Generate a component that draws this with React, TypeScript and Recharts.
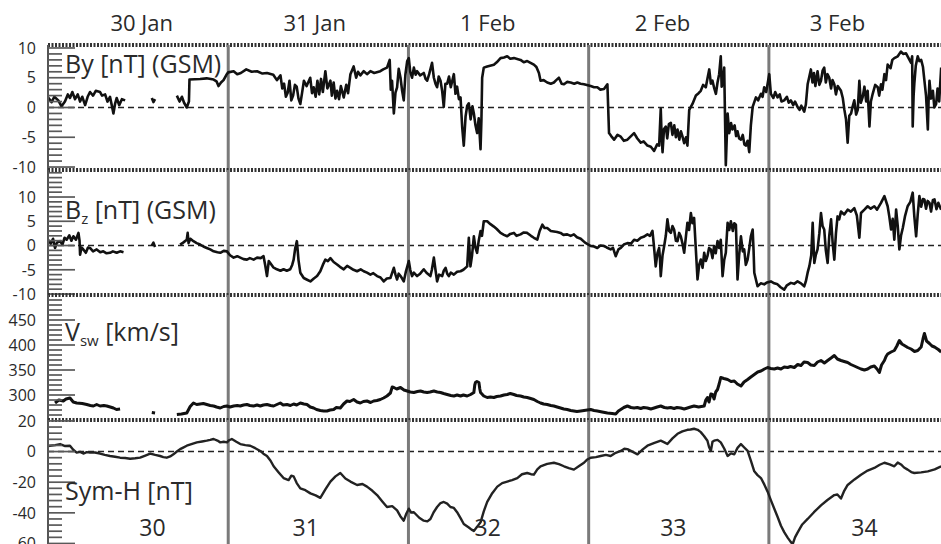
import React from 'react';
import { LineChart, Line, XAxis, YAxis, ReferenceLine, ReferenceDot } from 'recharts';

type Pt = [number, number | null];

const FONT = "'Open Sans', 'DejaVu Sans', sans-serif";
const TEXT = '#2a2a2a';

// Day-of-year axis (fractional days)
const X_DOMAIN: [number, number] = [30, 34.955];
const DAY_BOUNDARIES = [31, 32, 33, 34];
const DATE_TICKS = [30.52, 31.48, 32.44, 33.41, 34.38];
const DATE_LABELS = ['30 Jan', '31 Jan', '1 Feb', '2 Feb', '3 Feb'];
const DOY_TICKS = [30.58, 31.43, 32.44, 33.47, 34.53];
const DOY_LABELS = ['30', '31', '32', '33', '34'];

// IMF By (GSM), nT
const BY: Pt[] = [
  [30.0, 1.7], [30.02, 0.9], [30.035, 1.8], [30.057, 1.2], [30.075, 0.2], [30.094, 1.0], [30.11, 2.2],
  [30.122, 1.6], [30.135, 2.6], [30.15, 1.4], [30.165, 2.2], [30.178, 1.0], [30.19, 1.8], [30.206, 0.4],
  [30.22, 1.8], [30.233, 2.6], [30.25, 2.0], [30.265, 2.8], [30.289, 2.6], [30.3, 2.0], [30.317, 2.2],
  [30.33, 1.0], [30.344, 1.8], [30.355, 0.2], [30.363, -1.0], [30.372, 0.6], [30.381, 1.6], [30.395, 0.4],
  [30.41, 1.4], [30.428, 1.2], [30.45, null], [30.576, 1.6], [30.585, 0.9], [30.594, 1.4], [30.62, null],
  [30.715, 2.0], [30.73, 1.0], [30.743, 1.8], [30.755, 0.8], [30.77, 0.0], [30.782, 1.0], [30.785, 4.7],
  [30.844, 4.8], [30.88, 4.9], [30.919, 4.7], [30.935, 4.4], [30.946, 3.6], [30.96, 4.2], [30.974, 4.6],
  [30.99, 5.5], [31.0, 5.9], [31.03, 6.1], [31.05, 5.6], [31.07, 5.8], [31.1, 6.4], [31.13, 6.0],
  [31.16, 6.1], [31.19, 5.7], [31.215, 5.8], [31.25, 5.5], [31.27, 4.6], [31.29, 5.4], [31.3, 3.2],
  [31.31, 4.0], [31.32, 1.8], [31.33, 2.5], [31.34, 4.5], [31.35, 1.2], [31.36, 2.0], [31.37, 3.8],
  [31.38, 3.5], [31.39, 1.5], [31.4, 0.6], [31.41, 2.5], [31.42, 4.5], [31.435, 3.6], [31.455, 5.0],
  [31.465, 2.4], [31.474, 3.4], [31.485, 1.8], [31.495, 4.5], [31.505, 2.2], [31.515, 4.8], [31.525, 2.6],
  [31.539, 6.1], [31.55, 3.2], [31.567, 4.5], [31.575, 2.0], [31.585, 4.2], [31.595, 1.5], [31.604, 2.8],
  [31.615, 1.4], [31.625, 3.6], [31.641, 1.7], [31.655, 3.8], [31.665, 2.4], [31.678, 5.6], [31.696, 6.9],
  [31.71, 5.0], [31.72, 6.0], [31.733, 5.4], [31.752, 6.1], [31.77, 5.6], [31.789, 6.1], [31.81, 5.8],
  [31.844, 6.1], [31.86, 6.4], [31.881, 6.7], [31.896, 8.0], [31.902, 3.0], [31.909, 4.5], [31.919, -1.0],
  [31.928, 2.5], [31.937, 3.4], [31.946, 6.5], [31.956, 5.0], [31.965, 2.8], [31.974, 1.2], [31.983, 5.5],
  [31.993, 7.8], [32.002, 8.3], [32.01, 6.0], [32.02, 5.0], [32.03, 6.7], [32.04, 5.5], [32.048, 6.1],
  [32.065, 5.4], [32.085, 5.8], [32.095, 4.8], [32.104, 4.5], [32.115, 5.6], [32.131, 7.5], [32.141, 5.0],
  [32.15, 4.0], [32.159, 3.4], [32.168, 5.2], [32.178, 4.5], [32.187, 2.8], [32.196, 0.1], [32.205, 4.0],
  [32.215, 4.0], [32.225, 5.2], [32.235, 3.4], [32.252, 5.6], [32.261, 2.3], [32.27, 3.5], [32.28, 1.4],
  [32.289, 1.7], [32.298, -3.2], [32.307, -6.4], [32.317, -1.5], [32.326, 0.3], [32.335, 0.7],
  [32.345, -2.0], [32.355, 0.2], [32.363, -1.0], [32.372, -3.0], [32.381, -4.3], [32.39, -1.8],
  [32.4, -7.0], [32.405, -2.0], [32.409, 5.0], [32.418, 6.7], [32.437, 6.9], [32.474, 7.2], [32.49, 7.6],
  [32.511, 8.3], [32.53, 8.4], [32.548, 8.6], [32.565, 8.2], [32.585, 8.3], [32.622, 8.0], [32.64, 7.6],
  [32.659, 7.8], [32.696, 7.2], [32.71, 6.8], [32.724, 5.8], [32.733, 4.5], [32.75, 4.6], [32.77, 4.2],
  [32.79, 4.0], [32.807, 4.2], [32.82, 4.6], [32.835, 5.0], [32.85, 4.0], [32.863, 3.9], [32.88, 4.3],
  [32.9, 4.2], [32.92, 4.0], [32.937, 4.2], [32.955, 4.0], [32.974, 3.9], [33.011, 3.6], [33.03, 3.4],
  [33.048, 3.4], [33.065, 3.0], [33.085, 3.1], [33.104, 3.9], [33.113, -4.3], [33.125, -4.8],
  [33.141, -5.4], [33.16, -4.6], [33.178, -4.9], [33.195, -5.6], [33.215, -5.4], [33.235, -4.8],
  [33.252, -4.3], [33.27, -5.2], [33.289, -5.9], [33.305, -5.7], [33.326, -6.4], [33.345, -6.6],
  [33.363, -7.3], [33.38, -6.2], [33.391, -6.4], [33.4, -0.2], [33.405, -5.0], [33.41, -7.5],
  [33.418, -3.6], [33.428, -3.2], [33.436, -5.2], [33.445, -2.8], [33.456, -2.6], [33.465, -4.6],
  [33.475, -3.0], [33.484, -5.0], [33.493, -3.7], [33.503, -5.4], [33.512, -4.0], [33.52, -4.8],
  [33.53, -6.0], [33.54, -5.0], [33.548, -6.4], [33.558, -0.4], [33.576, 0.6], [33.595, 2.0], [33.61, 2.4],
  [33.622, 2.8], [33.635, 3.8], [33.65, 3.4], [33.66, 5.0], [33.669, 6.4], [33.678, 4.0], [33.687, 4.5],
  [33.697, 3.2], [33.706, 2.3], [33.715, 4.2], [33.724, 5.6], [33.733, 8.6], [33.738, 3.5], [33.743, 4.0],
  [33.752, 6.7], [33.761, -9.7], [33.771, -1.0], [33.78, -4.3], [33.79, -2.6], [33.798, -3.7],
  [33.81, -3.0], [33.818, -4.8], [33.826, -4.0], [33.835, -5.2], [33.845, -5.4], [33.855, -4.6],
  [33.864, -6.2], [33.872, -6.4], [33.882, -5.6], [33.891, -7.5], [33.9, -3.0], [33.91, 0.1], [33.928, 1.7],
  [33.94, 1.2], [33.956, 2.3], [33.965, 1.8], [33.974, 3.4], [33.985, 2.6], [34.002, 5.6], [34.011, 2.3],
  [34.025, 1.6], [34.035, 2.6], [34.048, 1.7], [34.06, 2.2], [34.07, 1.0], [34.085, 1.2], [34.1, 1.8],
  [34.11, 0.8], [34.122, 1.2], [34.135, 0.4], [34.145, 1.0], [34.159, 0.1], [34.17, -0.4], [34.18, 0.3],
  [34.196, -0.7], [34.205, 0.5], [34.215, 3.9], [34.223, 5.0], [34.233, 6.4], [34.242, 4.2], [34.25, 5.8],
  [34.258, 3.6], [34.27, 6.1], [34.28, 3.8], [34.289, 4.5], [34.298, 6.2], [34.307, 6.7], [34.316, 4.2],
  [34.325, 5.6], [34.335, 5.0], [34.345, 3.2], [34.353, 4.6], [34.363, 3.9], [34.372, 2.2], [34.382, 3.6],
  [34.4, 2.8], [34.41, 1.6], [34.419, -0.4], [34.428, -2.0], [34.437, -5.9], [34.446, -1.4], [34.456, -1.0],
  [34.465, 0.2], [34.474, 1.2], [34.484, -1.2], [34.493, -0.4], [34.502, 4.5], [34.51, 0.8], [34.52, 1.7],
  [34.53, 3.5], [34.54, 1.0], [34.548, 2.8], [34.558, -3.2], [34.566, 1.0], [34.576, 2.3], [34.59, 3.8],
  [34.604, 3.4], [34.612, 2.0], [34.622, 3.9], [34.63, 3.0], [34.641, 5.6], [34.65, 4.6], [34.659, 7.2],
  [34.675, 6.6], [34.685, 8.0], [34.696, 8.3], [34.715, 8.6], [34.733, 9.4], [34.745, 9.0], [34.761, 9.1],
  [34.775, 8.3], [34.789, 7.5], [34.795, 8.6], [34.798, -3.2], [34.803, 2.0], [34.807, 4.0], [34.815, 7.0],
  [34.826, 8.6], [34.835, 7.8], [34.845, 8.0], [34.855, 6.8], [34.863, 4.5], [34.872, 2.0], [34.882, -3.7],
  [34.886, 1.0], [34.891, 4.5], [34.9, 1.5], [34.91, 2.8], [34.918, 0.0], [34.928, 0.6], [34.936, 3.2],
  [34.945, 1.0], [34.956, 6.7],
];

// IMF Bz (GSM), nT
const BZ: Pt[] = [
  [30.0, 1.2], [30.015, 0.4], [30.028, 1.4], [30.039, -0.5], [30.05, 0.6], [30.067, 0.9], [30.08, 0.2],
  [30.092, 1.6], [30.104, 1.2], [30.118, 2.1], [30.13, 1.0], [30.141, 1.9], [30.155, 1.2], [30.169, 2.6],
  [30.175, 1.0], [30.178, -1.9], [30.186, -0.4], [30.196, -0.8], [30.21, -1.5], [30.222, -0.4],
  [30.233, -0.5], [30.25, -1.2], [30.27, -0.8], [30.29, -1.4], [30.307, -1.2], [30.325, -1.6],
  [30.344, -1.5], [30.36, -1.2], [30.381, -1.5], [30.4, -1.2], [30.419, -1.4], [30.44, null],
  [30.576, 0.0], [30.585, 0.6], [30.594, -0.3], [30.62, null], [30.733, 0.2], [30.75, 0.6], [30.77, 1.2],
  [30.775, 2.6], [30.78, 0.5], [30.79, 1.4], [30.807, 0.9], [30.825, 0.5], [30.844, 0.2], [30.862, -0.2],
  [30.881, -0.5], [30.9, -0.8], [30.919, -1.2], [30.94, -1.4], [30.956, -1.5], [30.975, -1.1],
  [30.993, -1.2], [31.01, -2.0], [31.03, -2.5], [31.05, -2.2], [31.067, -2.5], [31.085, -2.8],
  [31.104, -2.9], [31.12, -2.6], [31.141, -2.9], [31.16, -2.5], [31.18, -2.6], [31.196, -2.2],
  [31.205, -4.0], [31.215, -6.3], [31.225, -3.2], [31.233, -3.6], [31.25, -4.5], [31.27, -4.9],
  [31.29, -5.2], [31.307, -4.9], [31.325, -5.2], [31.344, -4.9], [31.355, -4.0], [31.363, -2.9],
  [31.372, -0.5], [31.381, 0.9], [31.39, -3.0], [31.4, -5.6], [31.419, -6.7], [31.435, -7.0],
  [31.456, -7.4], [31.475, -6.8], [31.493, -6.3], [31.511, -5.3], [31.525, -4.0], [31.539, -2.9],
  [31.553, -3.2], [31.567, -2.6], [31.585, -3.4], [31.604, -3.9], [31.62, -4.4], [31.641, -4.9],
  [31.66, -4.2], [31.678, -4.6], [31.695, -5.0], [31.715, -5.3], [31.735, -4.9], [31.752, -5.3],
  [31.77, -5.6], [31.789, -6.0], [31.805, -5.7], [31.826, -6.3], [31.845, -6.6], [31.863, -7.4],
  [31.88, -6.8], [31.9, -6.7], [31.91, -5.6], [31.919, -4.6], [31.928, -6.0], [31.937, -7.0],
  [31.946, -5.8], [31.956, -6.3], [31.965, -6.8], [31.974, -7.4], [31.985, -5.5], [32.002, -3.2],
  [32.01, -5.0], [32.02, -6.3], [32.03, -5.6], [32.048, -6.3], [32.065, -5.8], [32.085, -4.9], [32.1, -5.6],
  [32.122, -6.3], [32.13, -5.0], [32.141, -2.5], [32.15, -5.0], [32.159, -7.4], [32.17, -6.0],
  [32.187, -6.3], [32.196, -5.2], [32.206, -4.6], [32.215, -5.8], [32.224, -6.3], [32.235, -5.6],
  [32.252, -6.0], [32.27, -5.4], [32.289, -5.3], [32.305, -5.0], [32.326, -4.3], [32.335, 1.6],
  [32.344, -4.3], [32.353, -2.0], [32.363, 1.9], [32.372, -0.5], [32.381, -1.5], [32.39, 1.0], [32.4, 3.0],
  [32.408, 2.0], [32.418, 5.0], [32.437, 5.0], [32.455, 4.4], [32.474, 3.9], [32.49, 3.4], [32.511, 2.6],
  [32.53, 2.2], [32.548, 1.9], [32.565, 2.4], [32.585, 2.6], [32.6, 2.0], [32.622, 2.3], [32.64, 2.7],
  [32.659, 2.6], [32.68, 2.0], [32.696, 1.6], [32.715, 1.2], [32.728, 3.0], [32.743, 4.3], [32.755, 3.6],
  [32.77, 3.6], [32.79, 3.0], [32.807, 2.9], [32.825, 2.8], [32.844, 2.6], [32.86, 2.2], [32.881, 2.3],
  [32.9, 2.0], [32.918, 2.3], [32.935, 1.7], [32.956, 1.4], [32.98, 0.6], [33.011, -0.1], [33.03, -0.2],
  [33.048, -0.5], [33.065, 0.0], [33.085, -0.1], [33.1, -0.4], [33.122, -0.8], [33.135, -0.5],
  [33.15, -2.2], [33.165, -0.8], [33.178, -0.5], [33.195, 0.2], [33.215, 0.5], [33.235, 0.4], [33.252, 1.2],
  [33.27, 1.0], [33.289, 1.6], [33.305, 1.8], [33.326, 2.3], [33.34, 2.0], [33.354, 3.0], [33.362, 0.0],
  [33.372, -4.3], [33.382, -1.5], [33.391, -0.5], [33.396, -3.0], [33.4, -6.3], [33.41, -2.0],
  [33.419, -0.1], [33.428, 2.0], [33.437, 5.4], [33.446, 3.0], [33.456, 2.6], [33.465, 4.0], [33.474, 3.3],
  [33.484, 1.0], [33.493, 0.9], [33.502, 2.6], [33.511, 1.9], [33.52, 0.5], [33.53, -1.5], [33.54, 2.0],
  [33.548, 4.7], [33.557, 3.2], [33.567, 6.7], [33.576, 4.6], [33.585, 5.7], [33.595, -1.0], [33.604, -7.0],
  [33.613, -4.0], [33.622, -2.9], [33.632, -4.6], [33.641, -1.5], [33.65, -3.2], [33.659, -2.2],
  [33.668, -0.5], [33.678, -0.8], [33.687, -2.6], [33.696, -0.1], [33.705, -1.6], [33.715, 0.9],
  [33.724, -0.5], [33.733, 1.2], [33.743, -6.3], [33.752, -3.0], [33.761, -1.5], [33.771, 4.7], [33.78, 3.2],
  [33.789, 5.0], [33.8, 3.0], [33.808, 4.6], [33.817, 4.3], [33.826, -7.0], [33.835, -2.0], [33.845, 1.9],
  [33.855, -1.2], [33.863, -0.8], [33.872, -4.0], [33.882, -2.9], [33.891, -0.6], [33.9, 1.9], [33.91, 3.3],
  [33.915, -1.0], [33.919, -5.6], [33.937, -8.4], [33.955, -7.8], [33.974, -8.0], [33.99, -7.6],
  [34.011, -7.4], [34.03, -7.8], [34.048, -8.0], [34.065, -8.6], [34.085, -9.1], [34.1, -8.2],
  [34.122, -7.7], [34.14, -7.9], [34.159, -7.4], [34.178, -7.8], [34.196, -8.4], [34.205, -7.4],
  [34.215, -5.6], [34.225, -4.2], [34.235, -2.0], [34.243, 4.7], [34.248, 0.0], [34.252, -3.6],
  [34.26, -2.0], [34.27, -0.8], [34.28, 2.5], [34.289, 6.7], [34.298, 4.0], [34.307, 3.3], [34.316, -1.0],
  [34.326, -3.6], [34.335, 2.0], [34.345, 5.4], [34.354, 0.5], [34.363, -2.9], [34.372, 2.5], [34.381, 6.0],
  [34.39, 5.4], [34.4, 7.0], [34.418, 6.4], [34.437, 7.4], [34.455, 7.0], [34.474, 7.7], [34.488, 6.2],
  [34.502, 1.6], [34.511, 6.7], [34.53, 7.4], [34.548, 8.1], [34.565, 7.6], [34.585, 8.1], [34.6, 7.4],
  [34.622, 8.8], [34.641, 10.2], [34.659, 8.1], [34.668, 6.0], [34.678, 3.3], [34.687, 5.5], [34.696, 1.2],
  [34.706, 7.4], [34.715, 4.0], [34.724, -0.8], [34.733, 2.0], [34.743, 3.6], [34.755, 6.0], [34.77, 8.1],
  [34.785, 9.0], [34.798, 10.9], [34.807, 6.0], [34.817, 1.9], [34.826, 6.5], [34.835, 10.2], [34.845, 8.0],
  [34.855, 9.6], [34.863, 9.5], [34.872, 7.6], [34.881, 9.2], [34.891, 8.8], [34.9, 7.0], [34.91, 9.4],
  [34.919, 9.5], [34.93, 7.5], [34.94, 8.8], [34.956, 7.4],
];

// Solar wind speed, km/s
const VSW: Pt[] = [
  [30.039, 284], [30.06, 290], [30.085, 288], [30.1, 292], [30.122, 294], [30.14, 286], [30.159, 284],
  [30.19, 283], [30.215, 281], [30.235, 279], [30.252, 278], [30.27, 281], [30.289, 278], [30.31, 279],
  [30.326, 278], [30.345, 276], [30.363, 274], [30.38, 271], [30.4, 272], [30.43, null], [30.576, 265],
  [30.594, 264], [30.62, null], [30.715, 261], [30.74, 262], [30.77, 264], [30.789, 277], [30.807, 284],
  [30.825, 281], [30.844, 282], [30.862, 283], [30.881, 281], [30.9, 279], [30.919, 278], [30.935, 276],
  [30.956, 274], [30.975, 277], [30.993, 278], [31.01, 276], [31.03, 278], [31.05, 279], [31.067, 278],
  [31.085, 280], [31.104, 281], [31.12, 279], [31.141, 278], [31.16, 280], [31.178, 278], [31.195, 280],
  [31.215, 281], [31.235, 279], [31.252, 278], [31.27, 281], [31.289, 284], [31.305, 280], [31.326, 281],
  [31.345, 279], [31.363, 282], [31.38, 280], [31.4, 284], [31.42, 282], [31.437, 281], [31.455, 276],
  [31.474, 274], [31.49, 271], [31.511, 269], [31.53, 268], [31.548, 268], [31.565, 270], [31.585, 271],
  [31.6, 275], [31.622, 274], [31.64, 282], [31.659, 288], [31.675, 287], [31.696, 291], [31.715, 286],
  [31.733, 284], [31.75, 287], [31.77, 288], [31.79, 285], [31.807, 288], [31.825, 289], [31.844, 291],
  [31.862, 294], [31.881, 298], [31.9, 304], [31.91, 316], [31.919, 315], [31.935, 312], [31.956, 315],
  [31.975, 310], [31.993, 308], [32.01, 306], [32.03, 305], [32.05, 307], [32.067, 308], [32.085, 306],
  [32.104, 305], [32.12, 306], [32.141, 308], [32.16, 306], [32.178, 305], [32.195, 303], [32.215, 301],
  [32.235, 299], [32.252, 298], [32.27, 300], [32.289, 298], [32.305, 300], [32.326, 298], [32.345, 301],
  [32.363, 305], [32.368, 320], [32.372, 325], [32.38, 327], [32.391, 325], [32.396, 312], [32.4, 305],
  [32.418, 298], [32.437, 295], [32.455, 296], [32.474, 295], [32.49, 297], [32.511, 298], [32.53, 300],
  [32.548, 301], [32.565, 303], [32.585, 301], [32.6, 299], [32.622, 298], [32.64, 296], [32.659, 295],
  [32.678, 293], [32.696, 291], [32.715, 287], [32.733, 284], [32.75, 282], [32.77, 281], [32.79, 279],
  [32.807, 278], [32.825, 276], [32.844, 274], [32.862, 272], [32.881, 271], [32.9, 269], [32.918, 268],
  [32.935, 267], [32.956, 268], [33.011, 271], [33.03, 269], [33.048, 268], [33.075, 266], [33.104, 264],
  [33.13, 263], [33.15, 262], [33.165, 268], [33.178, 271], [33.195, 275], [33.215, 278], [33.235, 275],
  [33.252, 274], [33.27, 275], [33.289, 273], [33.305, 275], [33.326, 274], [33.345, 272], [33.363, 274],
  [33.38, 276], [33.4, 278], [33.42, 275], [33.437, 274], [33.455, 275], [33.474, 273], [33.49, 275],
  [33.511, 274], [33.53, 272], [33.548, 274], [33.565, 276], [33.585, 278], [33.61, 276], [33.641, 278],
  [33.65, 290], [33.659, 295], [33.668, 286], [33.678, 302], [33.687, 301], [33.696, 292], [33.705, 306],
  [33.715, 311], [33.724, 322], [33.733, 335], [33.75, 333], [33.771, 331], [33.79, 327], [33.808, 328],
  [33.825, 322], [33.845, 318], [33.862, 326], [33.882, 331], [33.9, 336], [33.919, 341], [33.938, 346],
  [33.956, 348], [33.975, 352], [33.993, 355], [34.01, 353], [34.03, 352], [34.048, 354], [34.067, 352],
  [34.085, 356], [34.104, 355], [34.12, 357], [34.141, 355], [34.16, 361], [34.178, 359], [34.195, 366],
  [34.215, 365], [34.233, 360], [34.252, 359], [34.27, 366], [34.289, 369], [34.308, 364], [34.326, 369],
  [34.345, 374], [34.363, 379], [34.38, 372], [34.4, 369], [34.418, 367], [34.437, 365], [34.455, 361],
  [34.474, 358], [34.492, 355], [34.511, 352], [34.53, 350], [34.548, 352], [34.565, 356], [34.585, 358],
  [34.6, 352], [34.613, 345], [34.625, 360], [34.641, 369], [34.65, 377], [34.659, 382], [34.678, 386],
  [34.696, 389], [34.71, 398], [34.724, 409], [34.738, 402], [34.752, 399], [34.77, 395], [34.789, 392],
  [34.808, 387], [34.826, 389], [34.845, 396], [34.855, 412], [34.863, 423], [34.875, 408], [34.891, 403],
  [34.905, 398], [34.919, 396], [34.94, 391], [34.956, 386],
];

// Sym-H index, nT
const SYMH: Pt[] = [
  [30.0, 3.5], [30.011, 3.8], [30.04, 4.2], [30.067, 4.9], [30.095, 3.6], [30.122, 3.8], [30.14, 1.2],
  [30.159, -0.7], [30.178, -0.2], [30.196, -1.3], [30.215, -0.4], [30.233, -0.7], [30.26, -0.6],
  [30.289, -1.3], [30.315, -2.2], [30.344, -2.9], [30.372, -3.4], [30.4, -4.0], [30.428, -4.2],
  [30.456, -4.7], [30.484, -4.4], [30.511, -4.0], [30.54, -2.6], [30.567, -1.3], [30.595, -2.2],
  [30.622, -2.9], [30.64, -3.6], [30.659, -4.0], [30.678, -3.2], [30.696, -1.8], [30.715, 0.0],
  [30.733, 1.6], [30.75, 2.6], [30.77, 3.8], [30.8, 5.0], [30.826, 6.0], [30.855, 6.6], [30.881, 7.1],
  [30.9, 7.6], [30.919, 8.2], [30.94, 7.2], [30.956, 6.0], [30.975, 6.4], [30.993, 6.0], [31.005, 7.4],
  [31.02, 8.2], [31.045, 6.4], [31.067, 4.9], [31.095, 4.2], [31.122, 3.8], [31.15, 2.2], [31.178, 0.4],
  [31.195, -1.4], [31.215, -2.9], [31.235, -6.0], [31.252, -9.6], [31.28, -13.6], [31.307, -17.3],
  [31.335, -18.6], [31.35, -15.8], [31.363, -16.2], [31.38, -20.6], [31.4, -24.0], [31.428, -25.2],
  [31.456, -27.3], [31.485, -28.6], [31.511, -30.2], [31.54, -24.6], [31.567, -19.6], [31.595, -16.2],
  [31.622, -14.0], [31.65, -17.6], [31.678, -19.6], [31.715, -21.8], [31.745, -21.2], [31.77, -22.9],
  [31.8, -25.6], [31.826, -28.4], [31.855, -32.6], [31.881, -36.2], [31.91, -35.6], [31.937, -38.4],
  [31.955, -42.2], [31.974, -45.1], [31.988, -40.6], [32.002, -37.3], [32.015, -39.8], [32.03, -39.6],
  [32.06, -43.2], [32.085, -45.1], [32.105, -45.6], [32.122, -44.0], [32.14, -39.6], [32.159, -36.2],
  [32.178, -33.6], [32.196, -32.9], [32.215, -34.0], [32.233, -36.2], [32.252, -36.8], [32.27, -39.6],
  [32.29, -43.6], [32.307, -47.3], [32.335, -49.6], [32.35, -51.0], [32.363, -51.8], [32.382, -49.0],
  [32.4, -46.2], [32.418, -39.0], [32.437, -32.9], [32.465, -27.2], [32.493, -22.9], [32.52, -20.6],
  [32.548, -19.6], [32.575, -18.6], [32.604, -17.3], [32.63, -14.8], [32.659, -14.0], [32.68, -14.8],
  [32.696, -15.1], [32.715, -11.6], [32.733, -9.6], [32.77, -8.0], [32.807, -7.3], [32.835, -8.2],
  [32.863, -9.6], [32.89, -10.8], [32.918, -11.8], [32.945, -9.6], [32.974, -7.3], [32.99, -5.4],
  [33.011, -4.0], [33.04, -3.6], [33.067, -2.9], [33.095, -2.2], [33.122, -2.9], [33.15, -0.8],
  [33.178, 0.4], [33.198, 1.8], [33.215, 1.6], [33.245, -0.2], [33.271, -1.8], [33.3, 1.4], [33.326, 3.8],
  [33.365, 5.6], [33.4, 7.1], [33.42, 6.0], [33.437, 4.9], [33.465, 8.6], [33.493, 11.6], [33.52, 13.2],
  [33.548, 14.2], [33.565, 14.4], [33.585, 14.9], [33.605, 14.2], [33.622, 12.7], [33.64, 10.2],
  [33.659, 7.1], [33.668, 3.0], [33.678, 0.4], [33.687, 6.4], [33.696, 7.1], [33.715, 7.6], [33.733, 6.0],
  [33.752, 2.0], [33.771, -2.9], [33.79, -1.2], [33.808, -1.8], [33.826, 2.4], [33.845, 4.9],
  [33.862, 2.8], [33.882, 0.4], [33.9, -6.0], [33.919, -12.9], [33.937, -15.4], [33.956, -17.3],
  [33.975, -21.6], [33.993, -26.2], [34.012, -32.0], [34.03, -37.3], [34.048, -42.6], [34.067, -48.4],
  [34.085, -52.6], [34.104, -56.2], [34.12, -58.8], [34.132, -60.5], [34.145, -56.0], [34.159, -52.9],
  [34.185, -47.6], [34.215, -44.0], [34.25, -39.6], [34.289, -35.1], [34.325, -31.6], [34.363, -28.4],
  [34.38, -28.0], [34.4, -30.7], [34.418, -25.6], [34.437, -21.8], [34.475, -18.2], [34.511, -15.1],
  [34.548, -12.4], [34.585, -10.7], [34.615, -8.6], [34.641, -7.3], [34.67, -8.4], [34.696, -9.6],
  [34.715, -7.2], [34.733, -8.4], [34.75, -10.4], [34.77, -11.8], [34.79, -13.4], [34.807, -14.0],
  [34.845, -13.6], [34.882, -12.9], [34.92, -11.6], [34.956, -9.6],
];

// Axis ticks per panel
const BY_MAJOR = [-10, -5, 0, 5, 10];
const BY_MINOR = [-9, -8, -7, -6, -4, -3, -2, -1, 1, 2, 3, 4, 6, 7, 8, 9];
const BZ_MAJOR = [-10, -5, 0, 5, 10];
const BZ_MINOR = [-9, -8, -7, -6, -4, -3, -2, -1, 1, 2, 3, 4, 6, 7, 8, 9, 11, 12, 13, 14, 15];
const VSW_MAJOR = [300, 350, 400, 450];
const VSW_MINOR = [260, 270, 280, 290, 310, 320, 330, 340, 360, 370, 380, 390, 410, 420, 430, 440, 460, 470, 480, 490];
const SYMH_MAJOR = [-60, -40, -20, 0, 20];
const SYMH_MINOR = [-56, -52, -48, -44, -36, -32, -28, -24, -16, -12, -8, -4, 4, 8, 12, 16];

const toRows = (pts: Pt[]) => pts.map(([t, v]) => ({ t, v }));

// Left axis tick: short rung for minor values, long rung plus label for major values
const makeTick = (major: number[]) => (props: any) => {
  const { x, y, payload } = props;
  const v = payload.value as number;
  const isMajor = major.includes(v);
  const ax = x + 12;
  return (
    <g>
      <line x1={ax} x2={ax + (isMajor ? 27 : 14)} y1={y} y2={y} stroke="#595959" strokeWidth={1.7} />
      {isMajor && (
        <text x={x} y={y} dy="0.36em" textAnchor="end" fontSize={16} fontFamily={FONT} fill={TEXT}>
          {v}
        </text>
      )}
    </g>
  );
};

interface PanelProps {
  data: Pt[];
  domain: [number, number];
  major: number[];
  minor: number[];
  zeroLine: boolean;
  top: number;
  first?: boolean;
  last?: boolean;
  strokeWidth: number;
  stroke: string;
}

// Panels overlap by PAD so tick labels at a panel edge keep their full text box
const PAD = 16;
const PLOT_H = 125;
const WIDTH = 941;

function Panel({ data, domain, major, minor, zeroLine, top, first, last, strokeWidth, stroke }: PanelProps) {
  const ticks = [...major, ...minor].sort((a, b) => a - b);
  const axisTop = first ? 45 : 0;
  const height = axisTop + PLOT_H + (first ? 0 : PAD) + (last ? 0 : PAD);
  return (
    <div style={{ position: 'absolute', left: 0, top }}>
      <LineChart
        width={WIDTH}
        height={height}
        data={toRows(data)}
        margin={{ top: first ? 0 : PAD, right: 0, bottom: last ? 0 : PAD, left: 0 }}
      >
        <XAxis
          dataKey="t"
          type="number"
          domain={X_DOMAIN}
          allowDataOverflow
          orientation="top"
          hide={!first}
          height={45}
          ticks={DATE_TICKS}
          interval={0}
          tickFormatter={(v: number) => DATE_LABELS[DATE_TICKS.indexOf(v)] ?? ''}
          tick={{ fontSize: 22, fontFamily: FONT, fill: TEXT }}
          tickLine={false}
          axisLine={false}
          tickMargin={8}
        />
        <YAxis
          type="number"
          domain={domain}
          allowDataOverflow
          width={48}
          ticks={ticks}
          interval={0}
          tick={makeTick(major)}
          tickSize={0}
          tickMargin={12}
          tickLine={false}
          axisLine={{ stroke: '#555', strokeWidth: 2 }}
        />
        <ReferenceLine y={domain[1]} stroke="#333" strokeWidth={4} strokeDasharray="2 1.5" />
        {zeroLine && <ReferenceLine y={0} stroke="#222" strokeWidth={1.5} strokeDasharray="6 4" />}
        {DAY_BOUNDARIES.map((d) => (
          <ReferenceLine key={d} x={d} stroke="#7a7a7a" strokeWidth={3} />
        ))}
        <Line
          dataKey="v"
          type="linear"
          stroke={stroke}
          strokeWidth={strokeWidth}
          strokeLinejoin="round"
          dot={false}
          connectNulls={false}
          isAnimationActive={false}
        />
        {last &&
          DOY_TICKS.map((d, i) => (
            <ReferenceDot
              key={d}
              x={d}
              y={-50}
              r={0}
              stroke="none"
              fill="none"
              label={{ value: DOY_LABELS[i], position: 'center', fontSize: 23, fontFamily: FONT, fill: TEXT }}
            />
          ))}
      </LineChart>
    </div>
  );
}

const titleStyle: React.CSSProperties = { fontFamily: FONT, fontSize: 25, fill: TEXT };

export default function App() {
  return (
    <div style={{ position: 'absolute', left: 0, top: 0, width: WIDTH, height: 544, background: '#fff', overflow: 'hidden' }}>
      <Panel data={BY} domain={[-10.5, 10.5]} major={BY_MAJOR} minor={BY_MINOR} zeroLine top={0} first strokeWidth={2.6} stroke="#111" />
      <Panel data={BZ} domain={[-10.2, 15.57]} major={BZ_MAJOR} minor={BZ_MINOR} zeroLine top={170 - PAD} strokeWidth={2.6} stroke="#111" />
      <Panel data={VSW} domain={[250, 500]} major={VSW_MAJOR} minor={VSW_MINOR} zeroLine={false} top={295 - PAD} strokeWidth={3} stroke="#111" />
      <Panel data={SYMH} domain={[-61, 20.6]} major={SYMH_MAJOR} minor={SYMH_MINOR} zeroLine top={420 - PAD} last strokeWidth={2.4} stroke="#222" />
      <svg width={WIDTH} height={544} style={{ position: 'absolute', left: 0, top: 0, pointerEvents: 'none' }}>
        <text x={65} y={73} style={titleStyle}>By [nT] (GSM)</text>
        <text x={65} y={219} style={titleStyle}>
          B<tspan fontSize={15} dy={5}>z</tspan>
          <tspan dy={-5}> [nT] (GSM)</tspan>
        </text>
        <text x={65} y={341} style={titleStyle}>
          V<tspan fontSize={15} dy={5}>sw</tspan>
          <tspan dy={-5}> [km/s]</tspan>
        </text>
        <text x={65} y={500} style={titleStyle}>Sym-H [nT]</text>
      </svg>
    </div>
  );
}
